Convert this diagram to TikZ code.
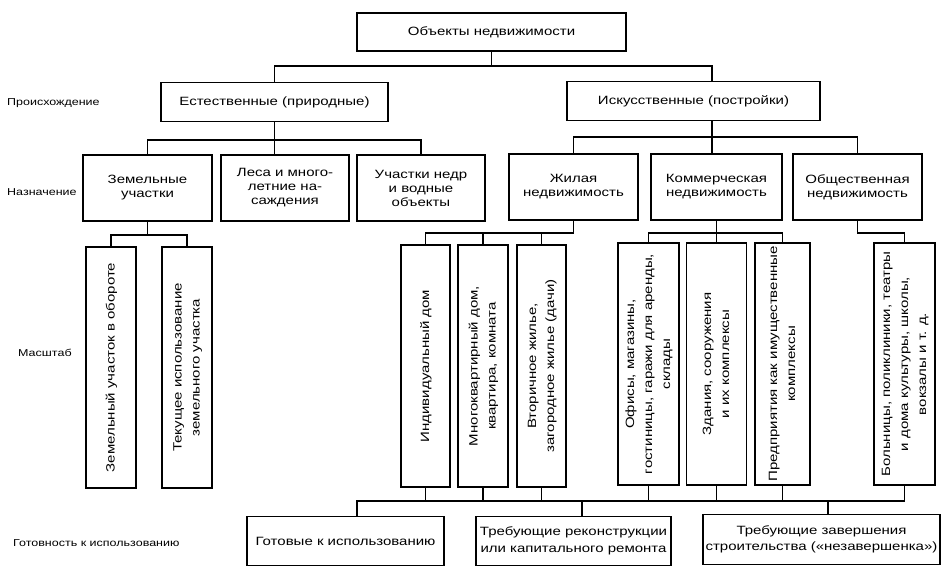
\documentclass[tikz,border=0pt]{standalone}
\usepackage{fontspec}
\usepackage{graphicx}
\setmainfont{Liberation Sans}[FakeStretch=1.25]
\usetikzlibrary{calc}
\newcommand{\vtxt}[1]{\rotatebox{90}{\begin{tabular}{@{}c@{}}#1\end{tabular}}}
\begin{document}
\begin{tikzpicture}[x=1pt,y=-1pt,
  wh/.style 2 args={minimum width=#1pt, minimum height=#2pt},
  box/.style={draw, line width=1.1pt, inner sep=0pt, align=center, font=\fontsize{12}{14}\selectfont},
  bbox/.style={draw, line width=1.1pt, inner sep=0pt, align=center, font=\fontsize{12}{16.5}\selectfont},
  vbox/.style={draw, line width=1.1pt, inner sep=0pt, font=\fontsize{12}{18}\selectfont},
  lbl/.style={anchor=west, inner sep=0pt, font=\fontsize{10}{12}\selectfont},
  conn/.style={line width=1.1pt}]
\useasboundingbox (0,0) rectangle (946,586);
\fill[white] (0,0) rectangle (946,586);

% labels
\node[lbl] (lp) at (7,103) {Происхождение};
\node[lbl] (ln) at (7,192) {Назначение};
\node[lbl] (lm) at (18,353) {Масштаб};
\node[lbl] (lg) at (13,543) {Готовность к использованию};

% level 0 / 1
\node[box, wh={269}{38}] (top) at (491.5,32) {Объекты недвижимости};
\node[box, wh={227}{39}] (nat) at (274.5,102) {Естественные (природные)};
\node[box, wh={253}{39}] (art) at (693.5,101) {Искусственные (постройки)};

% level 2
\node[box, wh={129}{66}] (zu) at (147.5,188) {Земельные\\участки};
\node[box, wh={128}{66}] (les) at (285,188) {Леса и много-\\летние на-\\саждения};
\node[box, wh={128}{66}] (ned) at (421,188) {Участки недр\\и водные\\объекты};
\node[box, wh={129}{66}] (zhil) at (573.5,187) {Жилая\\недвижимость};
\node[box, wh={131}{66}] (komm) at (716.5,187) {Коммерческая\\недвижимость};
\node[box, wh={129}{66}] (obsh) at (857.5,187) {Общественная\\недвижимость};

% level 3
\node[vbox, wh={50}{241}] (zu1) at (111,367.5) {\vtxt{Земельный участок в обороте}};
\node[vbox, wh={50}{241}] (zu2) at (187,367.5) {\vtxt{Текущее использование\\земельного участка}};
\node[vbox, wh={49}{242}] (zh1) at (425.5,366) {\vtxt{Индивидуальный дом}};
\node[vbox, wh={50}{242}] (zh2) at (483,366) {\vtxt{Многоквартирный дом,\\квартира, комната}};
\node[vbox, wh={49}{242}] (zh3) at (541.5,366) {\vtxt{Вторичное жилье,\\загородное жилье (дачи)}};
\node[vbox, wh={61}{242}] (k1) at (648.5,364) {\vtxt{Офисы, магазины,\\гостиницы, гаражи для аренды,\\склады}};
\node[vbox, wh={60}{242}] (k2) at (716.5,364) {\vtxt{Здания, сооружения\\и их комплексы}};
\node[vbox, wh={55}{242}] (k3) at (782.5,364) {\vtxt{Предприятия как имущественные\\комплексы}};
\node[vbox, wh={61}{242}] (o1) at (904.5,364) {\vtxt{Больницы, поликлиники, театры\\и дома культуры, школы,\\вокзалы и т. д.}};

% level 4
\node[bbox, wh={197}{49}] (g1) at (345.5,541) {Готовые к использованию};
\node[bbox, wh={195}{49}] (g2) at (573.5,541) {Требующие реконструкции\\или капитального ремонта};
\node[bbox, wh={237}{50}] (g3) at (821.5,539.5) {Требующие завершения\\строительства («незавершенка»)};

% bus levels and stems
\coordinate (L1) at (0,66);
\coordinate (L2a) at (0,140);
\coordinate (L2b) at (0,137);
\coordinate (L3a) at (0,235);
\coordinate (L3b) at (0,233);
\coordinate (L4) at (0,501);
\coordinate (artc) at (712,0);
\coordinate (g1c) at (357,0);
\coordinate (g2c) at (582,0);
\coordinate (g3c) at (828,0);

% top
\draw[conn] (top.south) -- (top.south |- L1);
\draw[conn] (nat.north) |- (artc |- L1) -- (art.north -| artc);

% natural
\draw[conn] (nat.south) -- (nat.south |- les.north);
\draw[conn] (zu.north) |- (ned.north |- L2a) -- (ned.north);

% artificial
\draw[conn] (art.south -| artc) -- (komm.north -| artc);
\draw[conn] (zhil.north) |- (obsh.north |- L2b) -- (obsh.north);

% land
\draw[conn] (zu.south) -- (zu.south |- L3a);
\draw[conn] (zu1.north) |- (zu2.north |- L3a) -- (zu2.north);

% residential
\draw[conn] (zhil.south) |- (zh1.north |- L3b) -- (zh1.north);
\draw[conn] (zh2.north) -- (zh2.north |- L3b);
\draw[conn] (zh3.north) -- (zh3.north |- L3b);

% commercial
\draw[conn] (komm.south) -- (k2.north);
\draw[conn] (k1.north) |- (k3.north |- L3b) -- (k3.north);

% public
\draw[conn] (obsh.south) |- (o1.north |- L3b) -- (o1.north);

% bottom bus
\foreach \n in {zh1,zh2,zh3,k1,k2,k3,o1}
  \draw[conn] (\n.south) -- (\n.south |- L4);
\draw[conn] (g1.north -| g1c) |- (o1.south |- L4);
\draw[conn] (g2.north -| g2c) -- (g2c |- L4);
\draw[conn] (g3.north -| g3c) -- (g3c |- L4);
\end{tikzpicture}
\end{document}
